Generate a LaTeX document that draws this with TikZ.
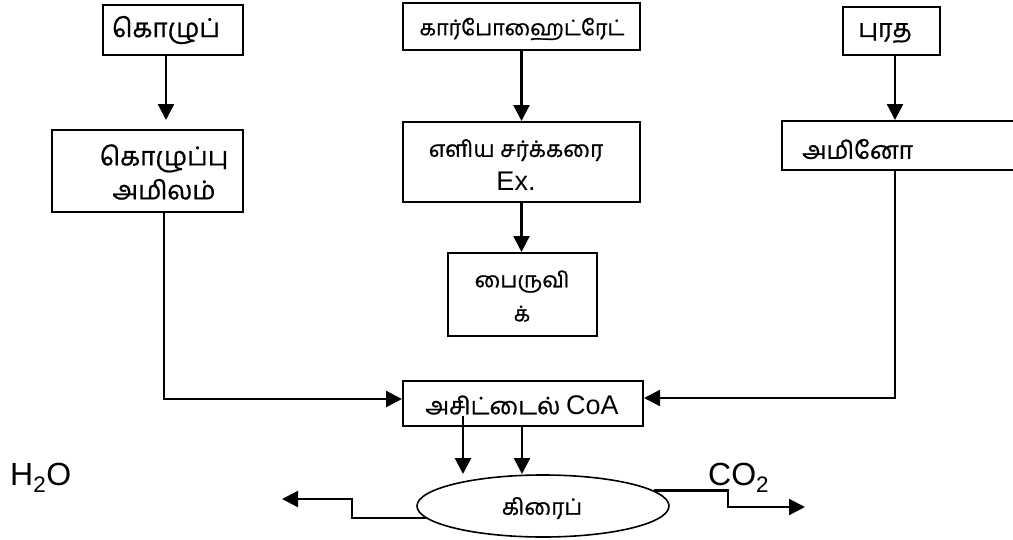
\documentclass[tikz,border=0pt]{standalone}
\usepackage{fontspec}
\setmainfont{Liberation Sans}
\newfontfamily\tam[Script=Tamil,FakeBold=0.8]{Hind Madurai}
\usetikzlibrary{arrows.meta,shapes.geometric,calc}
\newcommand{\tsz}[1]{\fontsize{#1}{34}\selectfont\tam}
\begin{document}
\begin{tikzpicture}[x=1pt,y=-1pt,
  box/.style={draw,line width=2pt,rectangle,inner sep=0pt},
  lbl/.style={inner sep=0pt,align=center,font=\tsz{23}},
  arr/.style={line width=2.3pt,-{Triangle[length=16pt,width=16pt]}}]
\useasboundingbox (0,0) rectangle (1013,539);
% boxes
\node[box,minimum width=140pt,minimum height=50pt] (k1) at (173,30) {};
\node[lbl,font=\tsz{26}] (k1t) at (166,30) {கொழுப்};
\node[box,minimum width=191pt,minimum height=82pt] (k2) at (147.5,171) {};
\node[lbl,font=\tsz{26}] (k2t) at (164,172) {கொழுப்பு\\அமிலம்};
\node[box,minimum width=237pt,minimum height=47pt] (c1) at (521.5,26.5) {};
\node[lbl,font=\tsz{21.5}] (c1t) at (522,29) {கார்போஹைட்ரேட்};
\node[box,minimum width=237pt,minimum height=80pt] (c2) at (521.5,162) {};
\node[lbl,font=\tsz{22.5}] (c2t) at (516,165) {எளிய சர்க்கரை\\{\rmfamily\fontsize{27}{34}\selectfont Ex.}};
\node[box,minimum width=149pt,minimum height=83pt] (c3) at (522.5,294.5) {};
\node[lbl,font=\tsz{21.5}] (c3t) at (522,296) {பைருவி\\க்};
\node[box,minimum width=97pt,minimum height=48pt] (p1) at (891.5,31) {};
\node[lbl,font=\tsz{25}] (p1t) at (885,33) {புரத};
\node[box,minimum width=240pt,minimum height=49pt] (p2) at (902,145.5) {};
\node[lbl,font=\tsz{24.5},anchor=west] (p2t) at (802,149) {அமினோ};
\node[box,minimum width=240pt,minimum height=45pt] (coa) at (523,403.5) {};
\node[lbl,font=\tsz{24}] (coat) at (522,405) {அசிட்டைல் {\rmfamily\fontsize{27}{34}\selectfont CoA}};
\node[draw,ellipse,line width=1.6pt,minimum width=252pt,minimum height=62pt,inner sep=0pt] (kreb) at (543,506) {};
\node[lbl,font=\tsz{22.5}] (krebt) at (542,508) {கிரைப்};
\node[inner sep=0pt,anchor=base west,font=\fontsize{32}{36}\selectfont] (h2o) at (10,485) {H\textsubscript{2}O};
\node[inner sep=0pt,anchor=base west,font=\fontsize{32}{36}\selectfont] (co2) at (708,485) {CO\textsubscript{2}};
% helper coordinates
\coordinate (h1) at (352,499);
\coordinate (hx) at (728,507);
\coordinate (hl) at (282,499);
\coordinate (hr) at (805,507);
% connectors
\draw[arr,shorten >=9pt] ([xshift=-7pt]k1.south) -- ([xshift=-7pt]k1.south |- k2.north);
\draw[arr] (c1.south) -- (c1.south |- c2.north);
\draw[arr] (c2.south) -- (c2.south |- c3.north);
\draw[arr] ([xshift=3.5pt]p1.south) -- ([xshift=3.5pt]p1.south |- p2.north);
\draw[arr] ([xshift=16.5pt]k2.south) |- ([yshift=4.5pt]coa.west);
\draw[arr] ([xshift=-7pt]p2.south) |- ([yshift=5.5pt]coa.east);
\draw[arr] ($(coa.south west)+(61,-11)$) -- ($(coa.south west)+(61,47)$);
\draw[arr] ([xshift=-1pt]coa.south) -- ($(coa.south)+(-1,47)$);
\draw[arr] (kreb.186) -| (h1) -- (hl);
\draw[arr] (kreb.8) -| (hx) -- (hr);
\end{tikzpicture}
\end{document}
